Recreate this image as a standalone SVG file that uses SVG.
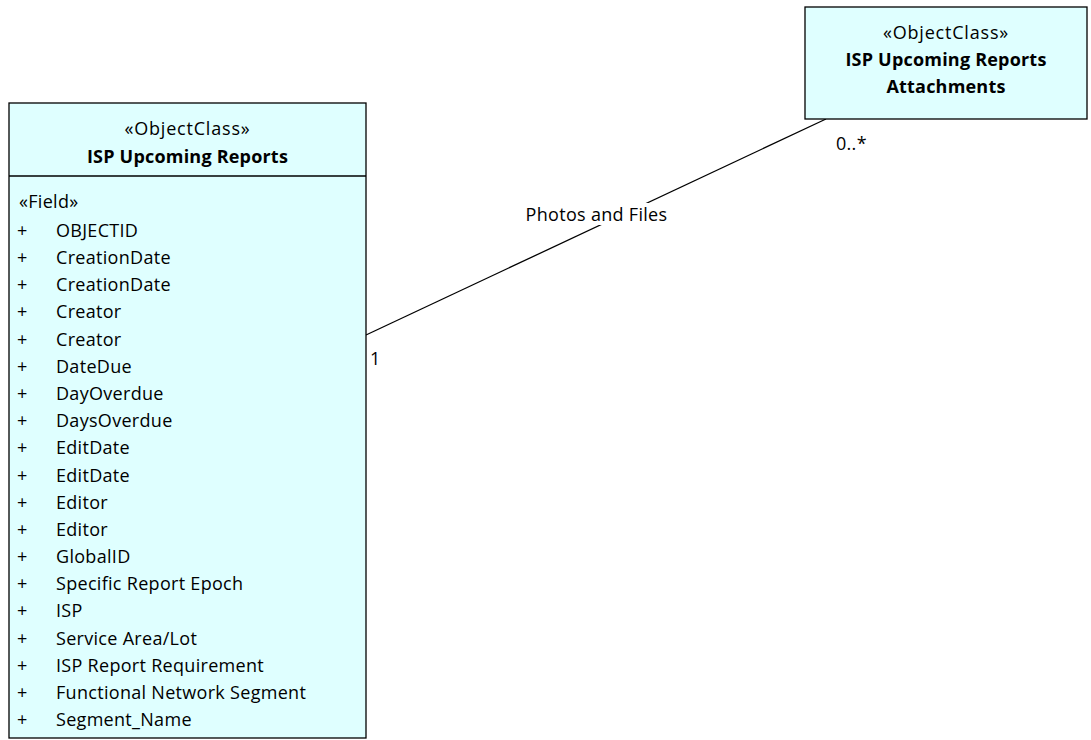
<svg xmlns="http://www.w3.org/2000/svg" width="1091" height="740" viewBox="0 0 1091 740">
<style>
.box{fill:#dfffff;stroke:#000;stroke-width:1.3}
.t{font-family:"Open Sans","Liberation Sans",Arial,sans-serif;font-size:18px;letter-spacing:0.3px;fill:#000}
.b{font-weight:bold;text-anchor:middle;letter-spacing:0.2px}
.c{text-anchor:middle}
.st{letter-spacing:0.8px}
.conn{stroke:#000;stroke-width:1.3;fill:none}
</style>
<rect width="1091" height="740" fill="#fff"/>
<g id="connectors">
<line class="conn" x1="366" y1="335" x2="826" y2="119"/>
<rect x="523" y="203" width="147" height="22" fill="#fff"/>
<text class="t c" x="596.5" y="221">Photos and Files</text>
<text class="t" x="370" y="365">1</text>
<text class="t" x="836" y="150">0..*</text>
</g>
<g id="node-isp-upcoming-reports">
<rect class="box" x="9" y="103" width="357" height="635"/>
<line class="conn" x1="9" y1="176" x2="366" y2="176"/>
<text class="t c st" x="187.5" y="135">«ObjectClass»</text>
<text class="t b" x="187.5" y="163">ISP Upcoming Reports</text>
<text class="t" x="19" y="208">«Field»</text>
<g class="t">
<text x="17" y="236.5">+</text><text x="56" y="236.5">OBJECTID</text>
<text x="17" y="263.5">+</text><text x="56" y="263.5">CreationDate</text>
<text x="17" y="291">+</text><text x="56" y="291">CreationDate</text>
<text x="17" y="318">+</text><text x="56" y="318">Creator</text>
<text x="17" y="345.5">+</text><text x="56" y="345.5">Creator</text>
<text x="17" y="372.5">+</text><text x="56" y="372.5">DateDue</text>
<text x="17" y="399.5">+</text><text x="56" y="399.5">DayOverdue</text>
<text x="17" y="427">+</text><text x="56" y="427">DaysOverdue</text>
<text x="17" y="454">+</text><text x="56" y="454">EditDate</text>
<text x="17" y="481.5">+</text><text x="56" y="481.5">EditDate</text>
<text x="17" y="508.5">+</text><text x="56" y="508.5">Editor</text>
<text x="17" y="535.5">+</text><text x="56" y="535.5">Editor</text>
<text x="17" y="562.5">+</text><text x="56" y="562.5">GlobalID</text>
<text x="17" y="590">+</text><text x="56" y="590">Specific Report Epoch</text>
<text x="17" y="617">+</text><text x="56" y="617">ISP</text>
<text x="17" y="644.5">+</text><text x="56" y="644.5">Service Area/Lot</text>
<text x="17" y="671.5">+</text><text x="56" y="671.5">ISP Report Requirement</text>
<text x="17" y="698.5">+</text><text x="56" y="698.5">Functional Network Segment</text>
<text x="17" y="725.5">+</text><text x="56" y="725.5">Segment_Name</text>
</g>
</g>
<g id="node-isp-upcoming-reports-attachments">
<rect class="box" x="805" y="7" width="282" height="112"/>
<text class="t c st" x="946" y="39">«ObjectClass»</text>
<text class="t b" x="946" y="66">ISP Upcoming Reports</text>
<text class="t b" x="946" y="93">Attachments</text>
</g>
</svg>
